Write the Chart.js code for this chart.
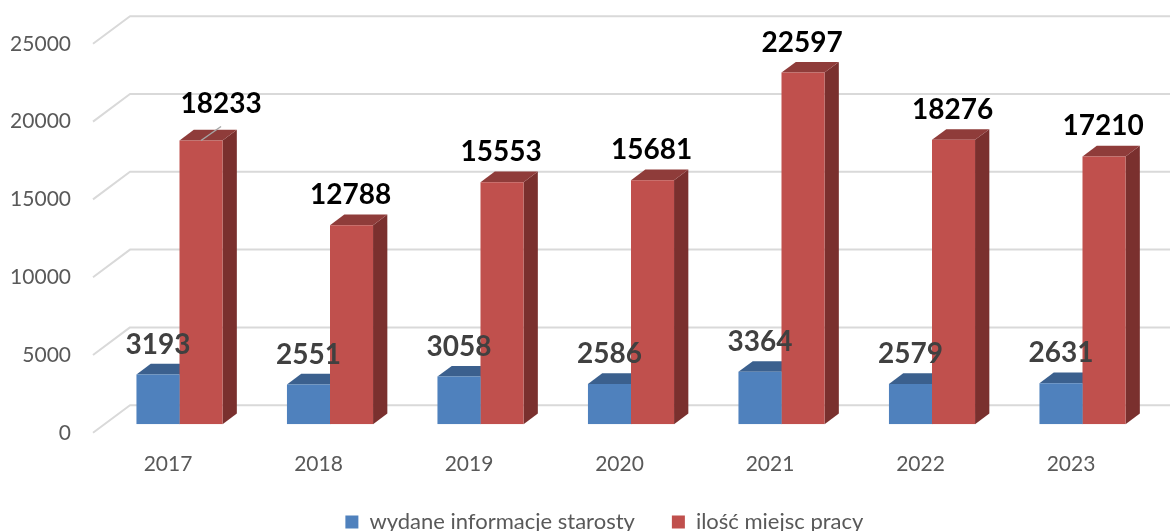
<!DOCTYPE html>
<html>
<head>
<meta charset="utf-8">
<title>wykres</title>
<script src="https://cdn.jsdelivr.net/npm/chart.js@4"></script>
<style>
html, body { margin: 0; padding: 0; background: #fff; overflow: hidden; height: 531px; }
canvas { display: block; }
</style>
</head>
<body>
<canvas id="myChart" width="1170" height="543"></canvas>
<script>
'use strict'
const years = ['2017', '2018', '2019', '2020', '2021', '2022', '2023'];
const infoValues = [3193, 2551, 3058, 2586, 3364, 2579, 2631];
const jobValues = [18233, 12788, 15553, 15681, 22597, 18276, 17210];
const seriesNames = ['wydane informacje starosty', 'ilość miejsc pracy'];
const yTicks = [0, 5000, 10000, 15000, 20000, 25000];

const fontName = 'Lato, "Open Sans", sans-serif';
const textColor = '#595959';
const depthX = 14.3;
const depthY = 10.7;

function shape(ctx, color, points){
    ctx.fillStyle = color;
    ctx.beginPath();
    ctx.moveTo(points[0][0], points[0][1]);
    for(let i = 1; i < points.length; i++){
        ctx.lineTo(points[i][0], points[i][1]);
    }
    ctx.closePath();
    ctx.fill();
}

// walls behind the bars + top and side of every bar
const depthPlugin = {
    id: 'depth',
    afterLayout(chart){
        // legend sits right of the canvas centre in the original
        chart.legend.left += 25.5;
        chart.legend.right += 25.5;
    },
    beforeDatasetsDraw(chart){
        const ctx = chart.ctx;
        const yScale = chart.scales.y;
        ctx.save();
        ctx.strokeStyle = '#d9d9d9';
        ctx.lineWidth = 2;
        ctx.lineJoin = 'round';
        yTicks.forEach(function(tick){
            let y = yScale.getPixelForValue(tick);
            ctx.beginPath();
            ctx.moveTo(93, y + 8.6);
            ctx.lineTo(130, y - 19);
            ctx.lineTo(1170, y - 19);
            ctx.stroke();
        });
        const tops = ['#3b608e', '#8f3c3a'];
        const sides = ['#325078', '#7a302e'];
        [0, 1].forEach(function(d){
            chart.getDatasetMeta(d).data.forEach(function(bar){
                let left = bar.x - bar.width / 2;
                let right = bar.x + bar.width / 2;
                shape(ctx, sides[d], [[right, bar.y], [right + depthX, bar.y - depthY], [right + depthX, bar.base - depthY], [right, bar.base]]);
                shape(ctx, tops[d], [[left, bar.y], [left + depthX, bar.y - depthY], [right + depthX, bar.y - depthY], [right, bar.y]]);
            });
        });
        ctx.restore();
    }
};

// value labels above the bars
const valuePlugin = {
    id: 'values',
    afterDatasetsDraw(chart){
        const ctx = chart.ctx;
        ctx.save();
        ctx.font = 'bold 28px ' + fontName;
        ctx.textAlign = 'center';
        ctx.textBaseline = 'middle';
        chart.getDatasetMeta(0).data.forEach(function(bar, i){
            ctx.fillStyle = '#404040';
            ctx.fillText(infoValues[i], bar.x, bar.y - 30);
        });
        chart.getDatasetMeta(1).data.forEach(function(bar, i){
            let lift = 30;
            let shift = -1;
            if(i === 0){
                // this label was moved in the original, with a leader line
                lift = 37;
                shift = 20;
                ctx.strokeStyle = '#a6a6a6';
                ctx.lineWidth = 1.5;
                ctx.beginPath();
                ctx.moveTo(bar.x, bar.y);
                ctx.lineTo(bar.x + 20, bar.y - 14);
                ctx.stroke();
            }
            ctx.fillStyle = '#000000';
            ctx.fillText(jobValues[i], bar.x + shift, bar.y - lift);
        });
        ctx.restore();
    }
};

new Chart(document.getElementById('myChart'), {
    type: 'bar',
    data: {
        labels: years,
        datasets: [{
            label: seriesNames[0],
            data: infoValues,
            backgroundColor: '#4f81bd'
        }, {
            label: seriesNames[1],
            data: jobValues,
            backgroundColor: '#c0504d'
        }]
    },
    options: {
        responsive: false,
        animation: false,
        layout: { padding: { left: 0, right: 12.25, top: 35.2, bottom: 0 } },
        datasets: { bar: { barPercentage: 1, categoryPercentage: 0.572 } },
        scales: {
            x: {
                grid: { display: false, drawTicks: false },
                border: { display: false },
                ticks: { color: textColor, font: { family: fontName, size: 21 }, padding: 27, labelOffset: -11.5, maxRotation: 0 },
                afterFit(axis){
                    axis.height = 49.8;
                    axis.paddingLeft = 0;
                    axis.paddingRight = 0;
                }
            },
            y: {
                min: 0,
                max: 25000,
                grid: { display: false, drawTicks: false },
                border: { display: false },
                afterBuildTicks(axis){ axis.ticks = yTicks.map(function(v){ return { value: v }; }); },
                ticks: {
                    color: textColor,
                    font: { family: fontName, size: 21 },
                    padding: 33.25,
                    labelOffset: 8.6,
                    callback(value){ return String(value); }
                },
                afterFit(axis){
                    axis.width = 104.25;
                    axis.paddingTop = 0;
                    axis.paddingBottom = 0;
                }
            }
        },
        plugins: {
            tooltip: { enabled: false },
            legend: {
                position: 'bottom',
                labels: {
                    color: textColor,
                    font: { family: fontName, size: 22 },
                    boxWidth: 13,
                    boxHeight: 13,
                    padding: 37
                }
            }
        }
    },
    plugins: [depthPlugin, valuePlugin]
});
</script>
</body>
</html>
